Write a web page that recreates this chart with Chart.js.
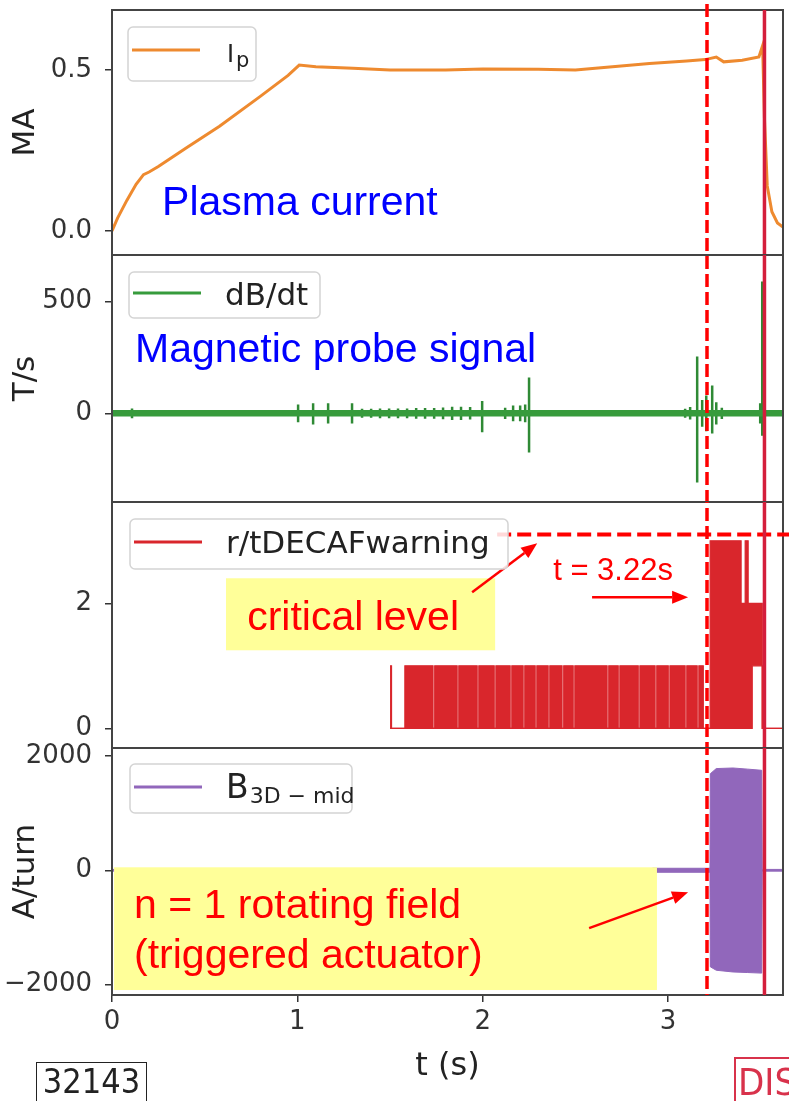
<!DOCTYPE html>
<html>
<head>
<meta charset="utf-8">
<script src="https://cdn.jsdelivr.net/npm/chart.js@4.4.1/dist/chart.umd.min.js"></script>
<style>
  html, body { margin: 0; background: #fff; }
  #wrap { position: relative; width: 789px; height: 1101px; overflow: hidden; background: #fff; }
  #wrap canvas { position: absolute; left: 0; }
  .tag { position: absolute; box-sizing: border-box; white-space: nowrap; }
  #shot { left: 36px; top: 1062px; width: 111px; height: 44px; border: 1.5px solid #222; color: #222;
          font: 34px "DejaVu Sans Condensed", "DejaVu Sans", sans-serif; line-height: 36px; text-align: center; }
  #dis { left: 734px; top: 1057px; width: 80px; height: 50px; border: 2px solid #d8324b; color: #d8324b;
         font: 38px "DejaVu Sans Condensed", "DejaVu Sans", sans-serif; line-height: 46px; padding-left: 2px; }
</style>
</head>
<body>
<div id="wrap">
  <canvas id="c-ip"></canvas>
  <canvas id="c-dbdt"></canvas>
  <canvas id="c-warn"></canvas>
  <canvas id="c-b3d"></canvas>
  <div class="tag" id="shot">32143</div>
  <div class="tag" id="dis">DIS</div>
</div>
<script>
// ---- data ----
const tMin = 0, tMax = 3.62;
const xTicks = [0, 1, 2, 3];
const tWarn = 3.21;      // dashed line, t = 3.22 s
const tDisrupt = 3.52;   // solid line
const critLevel = 3.1;

// plasma current (MA)
const ipT = [0, 0.03, 0.08, 0.13, 0.17, 0.2, 0.25, 0.4, 0.58, 0.8, 0.95, 1.01, 1.1, 1.3, 1.5, 1.8, 2.0, 2.3, 2.5, 2.7, 2.9, 3.1, 3.2, 3.26, 3.3, 3.4, 3.49, 3.51, 3.52, 3.535, 3.56, 3.59, 3.62];
const ipV = [0, 0.04, 0.095, 0.145, 0.175, 0.183, 0.2, 0.258, 0.325, 0.418, 0.483, 0.515, 0.51, 0.505, 0.5, 0.5, 0.503, 0.502, 0.5, 0.51, 0.52, 0.528, 0.532, 0.54, 0.525, 0.53, 0.54, 0.575, 0.35, 0.14, 0.06, 0.025, 0.012];
const ipTicks = [0, 0.5];

// dB/dt (T/s): baseline plus bursts
const dbdtBaseT = [0, 3.62];
const dbdtBaseV = [0, 0];
const burstT    = [0.108, 0.863, 1.004, 1.085, 1.166, 1.295, 1.349, 1.398, 1.446, 1.495, 1.543, 1.592, 1.641, 1.689, 1.738, 1.786, 1.835, 1.883, 1.932, 1.997, 2.121, 2.164, 2.202, 2.229, 2.250, 3.092, 3.119, 3.157, 3.184, 3.206, 3.238, 3.260, 3.290, 3.497, 3.508];
const burstUp   = [22, 12, 40, 45, 45, 45, 20, 20, 22, 22, 22, 22, 24, 24, 24, 26, 30, 30, 28, 55, 25, 35, 35, 40, 160, 20, 28, 255, 60, 80, 125, 50, 25, 45, 590];
const burstDown = [22, 12, 40, 50, 45, 45, 20, 20, 22, 22, 22, 22, 24, 24, 24, 26, 30, 30, 28, 85, 25, 35, 35, 40, 175, 20, 28, 310, 60, 80, 90, 50, 25, 45, 100];
const dbdtTicks = [0, 500];

// r/tDECAF warning level (stepped, upper / lower envelope)
const warnT  = [1.500, 1.508, 1.580, 1.732, 1.741, 1.862, 1.871, 1.970, 1.979, 2.062, 2.071, 2.148, 2.157, 2.218, 2.227, 2.283, 2.292, 2.353, 2.362, 2.428, 2.437, 2.488, 2.497, 2.671, 2.680, 2.731, 2.740, 2.839, 2.848, 2.930, 2.939, 3.001, 3.010, 3.092, 3.101, 3.157, 3.166, 3.190, 3.227, 3.394, 3.416, 3.432, 3.454, 3.508, 3.620];
const warnHi = [1, 0, 1, 0, 1, 0, 1, 0, 1, 0, 1, 0, 1, 0, 1, 0, 1, 0, 1, 0, 1, 0, 1, 0, 1, 0, 1, 0, 1, 0, 1, 0, 1, 0, 1, 0, 1, 0, 3, 2, 3, 2, 2, 0, 0];
const warnLo = [0, 0, 0, 0, 0, 0, 0, 0, 0, 0, 0, 0, 0, 0, 0, 0, 0, 0, 0, 0, 0, 0, 0, 0, 0, 0, 0, 0, 0, 0, 0, 0, 0, 0, 0, 0, 0, 0, 0, 0, 0, 0, 1, 0, 0];
const warnTicks = [0, 2];

// B3D-mid (A/turn) envelope
const b3dT  = [0, 2.88, 2.92, 3.2, 3.226, 3.228, 3.26, 3.35, 3.43, 3.505, 3.508, 3.62];
const b3dHi = [15, 15, 35, 35, 35, 1690, 1780, 1790, 1770, 1750, 15, 15];
const b3dLo = [-15, -15, -35, -35, -35, -1690, -1750, -1780, -1790, -1800, -15, -15];
const b3dTicks = [-2000, 0, 2000];

const ipColor = '#ee8a2f', dbdtColor = '#379b3c', spikeColor = '#2f8a35', warnColor = '#d9262c', b3dColor = '#9167bb';

// ---- helpers ----
const pts = (ts, vs) => ts.map((t, i) => ({ x: t, y: vs[i] }));
const spikes = [];
burstT.forEach((t, i) => {
  spikes.push({ x: t, y: 0 }, { x: t, y: burstUp[i] }, { x: t, y: -burstDown[i] }, { x: t, y: 0 });
});

Chart.defaults.font.family = '"DejaVu Sans", sans-serif';
Chart.defaults.color = '#333';

const SANS = '"Liberation Sans", Arial, sans-serif';
const DEJA = '"DejaVu Sans", sans-serif';

function text(ctx, s, x, y, color, size, font) {
  ctx.fillStyle = color;
  ctx.font = size + 'px ' + (font || SANS);
  ctx.textAlign = 'left';
  ctx.textBaseline = 'alphabetic';
  ctx.fillText(s, x, y);
}

function arrow(ctx, x1, y1, x2, y2) {
  const a = Math.atan2(y2 - y1, x2 - x1), L = 16, H = 6.5;
  const bx = x2 - L * Math.cos(a), by = y2 - L * Math.sin(a);
  ctx.save();
  ctx.strokeStyle = ctx.fillStyle = '#ff0000';
  ctx.lineWidth = 2.5;
  ctx.beginPath(); ctx.moveTo(x1, y1); ctx.lineTo(bx, by); ctx.stroke();
  ctx.beginPath();
  ctx.moveTo(x2, y2);
  ctx.lineTo(bx + H * Math.sin(a), by - H * Math.cos(a));
  ctx.lineTo(bx - H * Math.sin(a), by + H * Math.cos(a));
  ctx.closePath(); ctx.fill();
  ctx.restore();
}

function yellowBox(ctx, x1, y1, x2, y2) {
  ctx.fillStyle = '#ffff99';
  ctx.fillRect(x1, y1, x2 - x1, y2 - y1);
}

function drawLegend(ctx, a, lg) {
  const x = a.left + lg.dx, y = a.top + lg.dy;
  ctx.save();
  ctx.beginPath();
  ctx.roundRect(x, y, lg.w, lg.h, 5);
  ctx.fillStyle = 'rgba(255,255,255,0.85)';
  ctx.fill();
  ctx.strokeStyle = '#d4d4d4'; ctx.lineWidth = 1.5;
  ctx.stroke();
  ctx.strokeStyle = lg.color; ctx.lineWidth = 3;
  ctx.beginPath(); ctx.moveTo(x + 4, y + lg.lineY); ctx.lineTo(x + 72, y + lg.lineY); ctx.stroke();
  lg.label(ctx, x + lg.textX, y + lg.base);
  ctx.restore();
}

function overlay(p) {
  return {
    id: 'overlay',
    afterDatasetsDraw(chart) {
      const { ctx, chartArea: a, scales } = chart;
      const X = v => scales.x.getPixelForValue(v), Y = v => scales.y.getPixelForValue(v);
      ctx.save();
      ctx.strokeStyle = '#444'; ctx.lineWidth = 2;
      ctx.strokeRect(a.left, a.top, a.right - a.left, a.bottom - a.top);
      if (p.notes) p.notes(ctx, X, Y, a, chart);
      drawLegend(ctx, a, p.legend);

      // warning time (dashed) and disruption (solid), continuous across panels
      const y1 = p.first ? a.top - 6 : a.top;
      ctx.strokeStyle = '#ff0000'; ctx.lineWidth = 3.5;
      ctx.setLineDash([13, 5]);
      ctx.lineDashOffset = (p.canvasTop + y1 - 4) % 18;
      ctx.beginPath(); ctx.moveTo(X(tWarn), y1); ctx.lineTo(X(tWarn), a.bottom); ctx.stroke();
      ctx.setLineDash([]);
      ctx.strokeStyle = '#d41e3c'; ctx.lineWidth = 3.5;
      ctx.beginPath(); ctx.moveTo(X(tDisrupt), a.top); ctx.lineTo(X(tDisrupt), a.bottom); ctx.stroke();

      if (p.yTitle) {
        ctx.save();
        ctx.translate(a.left - 86, (a.top + a.bottom) / 2);
        ctx.rotate(-Math.PI / 2);
        ctx.fillStyle = '#222';
        ctx.font = '31px ' + DEJA;
        ctx.textAlign = 'center'; ctx.textBaseline = 'middle';
        ctx.fillText(p.yTitle, 0, 0);
        ctx.restore();
      }
      if (p.xTitle) {
        ctx.fillStyle = '#222';
        ctx.font = '32px ' + DEJA;
        ctx.textAlign = 'center'; ctx.textBaseline = 'middle';
        ctx.fillText(p.xTitle, (a.left + a.right) / 2, a.bottom + 72);
      }
      ctx.restore();
    }
  };
}

function makeChart(p) {
  const el = document.getElementById(p.id);
  el.width = 789; el.height = p.canvasH;
  el.style.top = p.canvasTop + 'px';
  const yScale = {
    min: p.yMin, max: p.yMax,
    afterBuildTicks: s => { s.ticks = p.yTicks.map(v => ({ value: v })); },
    afterFit: s => { s.width = 112; s.paddingTop = 0; s.paddingBottom = 0; },
    ticks: { font: { size: 26 }, color: '#333', padding: 13, callback: p.yFmt },
    grid: { drawOnChartArea: false, drawTicks: true, tickLength: 7, color: '#333', lineWidth: 1.5 },
    border: { display: false }
  };
  const xScale = {
    type: 'linear', min: tMin, max: tMax, display: !!p.showX,
    afterBuildTicks: s => { s.ticks = xTicks.map(v => ({ value: v })); },
    afterFit: s => { if (p.showX) { s.height = 106; } s.paddingLeft = 0; s.paddingRight = 0; },
    ticks: { font: { size: 26 }, color: '#333', padding: 5, maxRotation: 0 },
    grid: { drawOnChartArea: false, drawTicks: true, tickLength: 7, color: '#333', lineWidth: 1.5 },
    border: { display: false }
  };
  return new Chart(el, {
    type: 'line',
    data: { datasets: p.datasets },
    options: {
      responsive: false, animation: false, devicePixelRatio: 1, events: [],
      layout: { padding: { top: p.padTop, bottom: p.padBottom, left: 0, right: 6 } },
      elements: { point: { radius: 0 }, line: { tension: 0 } },
      plugins: { legend: { display: false }, tooltip: { enabled: false } },
      scales: { x: xScale, y: yScale }
    },
    plugins: [overlay(p)]
  });
}

// ---- panels ----
makeChart({
  id: 'c-ip', canvasTop: 0, canvasH: 285, padTop: 10, padBottom: 30, first: true,
  yMin: -0.0745, yMax: 0.686, yTicks: ipTicks, yFmt: v => v.toFixed(1), yTitle: 'MA',
  datasets: [{ data: pts(ipT, ipV), borderColor: ipColor, borderWidth: 3 }],
  legend: { dx: 16, dy: 17, w: 128, h: 54, lineY: 23, textX: 99, base: 35, color: ipColor,
    label(ctx, x, y) {
      text(ctx, 'I', x, y, '#222', 24, DEJA);
      const w = ctx.measureText('I').width;
      text(ctx, 'p', x + w + 2, y + 5, '#222', 21, DEJA);
    } },
  notes(ctx, X, Y) {
    text(ctx, 'Plasma current', X(0.27), Y(0.05), '#0000ff', 41);
  }
});

makeChart({
  id: 'c-dbdt', canvasTop: 225, canvasH: 307, padTop: 30, padBottom: 30,
  yMin: -397, yMax: 709, yTicks: dbdtTicks, yFmt: v => String(v), yTitle: 'T/s',
  datasets: [
    { data: pts(dbdtBaseT, dbdtBaseV), borderColor: dbdtColor, borderWidth: 6.5 },
    { data: spikes, borderColor: spikeColor, borderWidth: 2.5 }
  ],
  legend: { dx: 17, dy: 17, w: 191, h: 46, lineY: 21, textX: 96, base: 33, color: dbdtColor,
    label(ctx, x, y) { text(ctx, 'dB/dt', x, y, '#222', 31, DEJA); } },
  notes(ctx, X, Y) {
    text(ctx, 'Magnetic probe signal', X(0.124), Y(230), '#0000ff', 41);
  }
});

makeChart({
  id: 'c-warn', canvasTop: 472, canvasH: 306, padTop: 30, padBottom: 30,
  yMin: -0.315, yMax: 3.62, yTicks: warnTicks, yFmt: v => String(v),
  datasets: [
    { data: pts(warnT, warnHi), borderColor: warnColor, backgroundColor: warnColor, borderWidth: 1.2, stepped: true, fill: '+1' },
    { data: pts(warnT, warnLo), borderColor: warnColor, borderWidth: 1.2, stepped: true, fill: false }
  ],
  legend: { dx: 18, dy: 17, w: 378, h: 50, lineY: 23, textX: 96, base: 34, color: warnColor,
    label(ctx, x, y) { text(ctx, 'r/tDECAFwarning', x, y, '#222', 31, DEJA); } },
  notes(ctx, X, Y, a, chart) {
    yellowBox(ctx, X(0.615), Y(2.4), X(2.067), Y(1.248));
    text(ctx, 'critical level', X(0.729), Y(1.568), '#ff0000', 41);
    text(ctx, 't = 3.22s', X(2.38), Y(2.368), '#ff0000', 31);
    arrow(ctx, X(2.59), Y(2.096), X(3.108), Y(2.096));
    arrow(ctx, X(1.943), Y(2.176), X(2.294), Y(2.96));
    ctx.save();
    ctx.strokeStyle = '#ff0000'; ctx.lineWidth = 4;
    ctx.setLineDash([14, 6]);
    ctx.beginPath(); ctx.moveTo(X(2.078), Y(critLevel)); ctx.lineTo(chart.width, Y(critLevel)); ctx.stroke();
    ctx.restore();
  }
});

makeChart({
  id: 'c-b3d', canvasTop: 718, canvasH: 383, padTop: 30, padBottom: 0, showX: true,
  yMin: -2183, yMax: 2140, yTicks: b3dTicks, yFmt: v => String(v).replace('-', '\u2212'), yTitle: 'A/turn', xTitle: 't (s)',
  datasets: [
    { data: pts(b3dT, b3dHi), borderColor: b3dColor, backgroundColor: b3dColor, borderWidth: 1, fill: '+1' },
    { data: pts(b3dT, b3dLo), borderColor: b3dColor, borderWidth: 1, fill: false }
  ],
  legend: { dx: 18, dy: 16, w: 222, h: 49, lineY: 23, textX: 96, base: 34, color: b3dColor,
    label(ctx, x, y) {
      text(ctx, 'B', x, y, '#222', 33, DEJA);
      const w = ctx.measureText('B').width;
      text(ctx, '3D \u2212 mid', x + w + 1, y + 5, '#222', 22, DEJA);
    } },
  notes(ctx, X, Y) {
    yellowBox(ctx, X(0.011), Y(52), X(2.94), Y(-2096));
    text(ctx, 'n = 1 rotating field', X(0.119), Y(-838), '#ff0000', 41);
    text(ctx, '(triggered actuator)', X(0.119), Y(-1712), '#ff0000', 41);
    arrow(ctx, X(2.574), Y(-1013), X(3.108), Y(-384));
  }
});
</script>
</body>
</html>
